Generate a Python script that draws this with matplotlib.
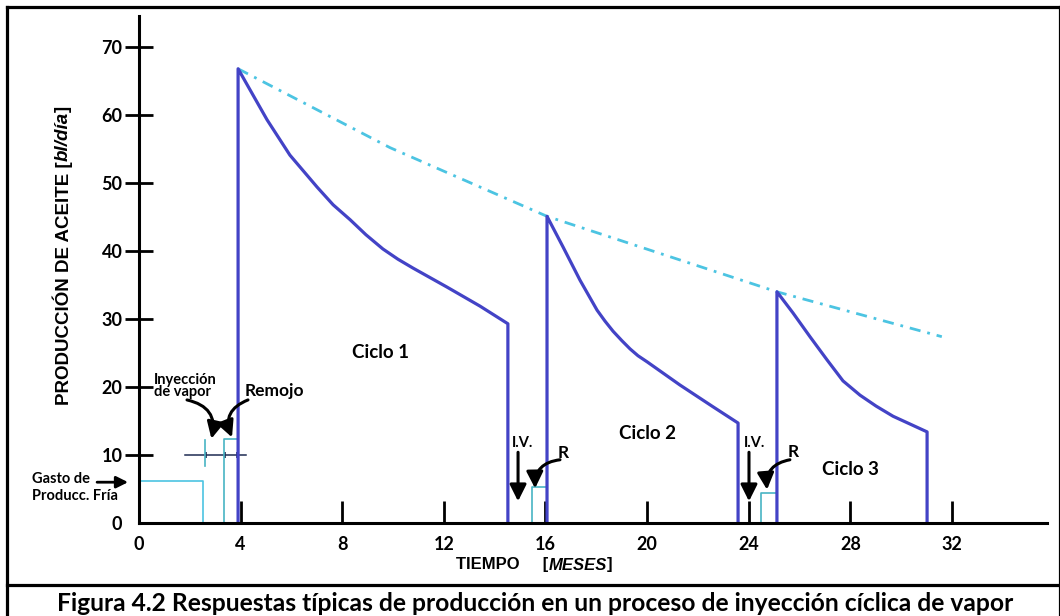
import matplotlib
matplotlib.use("Agg")
import matplotlib.pyplot as plt
from matplotlib.lines import Line2D

# ---- data (months, bl/dia) ----
cold_t = [0, 2.52, 2.52]
cold_q = [6.2, 6.2, 0]

steam_t = [2.60, 2.60]
steam_q = [8.4, 12.2]
steam_ref_t = [1.81, 4.21]
steam_ref_q = [10, 10]
steam_marks_t = [2.64, 3.39, 3.86]

soak1_t = [3.35, 3.35, 3.90]
soak1_q = [0, 12.35, 12.35]
soak2_t = [15.47, 15.47, 16.06]
soak2_q = [0, 5.3, 5.3]
soak3_t = [24.48, 24.48, 25.11]
soak3_q = [0, 4.4, 4.4]

cycle1_t = [3.90, 3.90, 5.04, 5.94, 7.01, 7.64, 8.31, 8.93, 9.60, 10.19, 10.78, 12.12, 13.42, 14.52, 14.52]
cycle1_q = [0, 66.8, 59.3, 54.1, 49.4, 46.8, 44.6, 42.4, 40.3, 38.8, 37.5, 34.7, 31.9, 29.3, 0]
cycle2_t = [16.06, 16.06, 16.69, 17.36, 18.03, 18.34, 18.66, 19.01, 19.33, 19.64, 20.00, 21.29, 22.59, 23.58, 23.58]
cycle2_q = [0, 45.1, 40.6, 35.7, 31.3, 29.7, 28.2, 26.8, 25.6, 24.6, 23.7, 20.3, 17.1, 14.7, 0]
cycle3_t = [25.11, 25.11, 25.74, 26.41, 27.08, 27.71, 28.38, 29.01, 29.68, 31.02, 31.02]
cycle3_q = [0, 34.0, 30.9, 27.4, 24.0, 20.9, 18.8, 17.2, 15.7, 13.4, 0]

env_t = [3.90, 9.88, 16.06, 25.11, 31.6]
env_q = [66.8, 55.2, 45.1, 34.0, 27.4]

xticks = [0, 4, 8, 12, 16, 20, 24, 28, 32]
yticks = [0, 10, 20, 30, 40, 50, 60, 70]

BLUE = "#4343c6"
CYAN = "#4cc4e2"
TEAL = "#48b4c4"
CAL = "Lato"
ARI = "Liberation Sans"

fig = plt.figure(figsize=(10.6, 6.16), dpi=100)
fig.patch.set_facecolor("white")
ax = fig.add_axes([139 / 1060, 93 / 616, 908 / 1060, 507 / 616])
ax.set_xlim(0, 35.74)
ax.set_ylim(0, 74.56)
ax.patch.set_alpha(0)

for s in ("top", "right"):
    ax.spines[s].set_visible(False)
for s in ("left", "bottom"):
    ax.spines[s].set_linewidth(2.2)
    ax.spines[s].set_color("black")

ax.set_xticks(xticks)
ax.set_yticks(yticks)
ax.tick_params(axis="x", direction="in", length=16, width=2.0, pad=9)
ax.tick_params(axis="y", direction="inout", length=20, width=2.0, pad=2)
ax.xaxis.get_major_ticks()[0].tick1line.set_visible(False)
ax.yaxis.get_major_ticks()[0].tick1line.set_visible(False)
for lab in ax.get_xticklabels() + ax.get_yticklabels():
    lab.set_fontfamily(CAL)
    lab.set_fontweight("bold")
    lab.set_fontsize(13)

# cold production + steam/soak steps
ax.plot(cold_t, cold_q, color=CYAN, lw=1.2)
ax.plot(steam_ref_t, steam_ref_q, color="#1e2b52", lw=1.1)
ax.plot(steam_marks_t, [10] * len(steam_marks_t), ls="none", marker="|", ms=4, mew=1.2, color="#1e2b52")
ax.plot(steam_t, steam_q, color=TEAL, lw=1.2)
ax.plot(soak1_t, soak1_q, color=TEAL, lw=1.2)
ax.plot(soak2_t, soak2_q, color=TEAL, lw=1.2)
ax.plot(soak3_t, soak3_q, color=TEAL, lw=1.2)

# envelope
ax.plot(env_t, env_q, color=CYAN, lw=2.0, dashes=(4, 2.5, 1, 2.5))

# production cycles
for t, q in ((cycle1_t, cycle1_q), (cycle2_t, cycle2_q), (cycle3_t, cycle3_q)):
    ax.plot(t, q, color=BLUE, lw=2.3, solid_joinstyle="round")

# labels
ctext = dict(fontfamily=CAL, fontweight="bold", color="black")
ax.text(9.49, 25.1, "Ciclo 1", ha="center", va="center", fontsize=13.5, **ctext)
ax.text(20.0, 13.2, "Ciclo 2", ha="center", va="center", fontsize=13.5, **ctext)
ax.text(27.99, 7.8, "Ciclo 3", ha="center", va="center", fontsize=13.5, **ctext)
ax.text(0.59, 20.1, "Inyección\nde vapor", ha="left", va="center", fontsize=10.5,
        linespacing=0.85, **ctext)
ax.text(5.31, 19.4, "Remojo", ha="center", va="center", fontsize=12.5, **ctext)
ax.text(-4.21, 5.2, "Gasto de\nProducc. Fría", ha="left", va="center", fontsize=10.5,
        linespacing=1.3, **ctext)
ax.text(15.11, 11.8, "I.V.", ha="center", va="center", fontsize=10.5, **ctext)
ax.text(24.21, 11.8, "I.V.", ha="center", va="center", fontsize=10.5, **ctext)
ax.text(16.69, 10.3, "R", ha="center", va="center", fontsize=12.5, **ctext)
ax.text(25.74, 10.4, "R", ha="center", va="center", fontsize=12.5, **ctext)

big = dict(arrowstyle="-|>,head_length=0.5,head_width=0.25", color="black", lw=2.2,
           mutation_scale=20, shrinkA=0, shrinkB=0)


def arrow(xy, xytext, rad=0.0, **kw):
    props = dict(big, connectionstyle=f"arc3,rad={rad}")
    props.update(kw)
    ax.annotate("", xy=xy, xytext=xytext, arrowprops=props, annotation_clip=False)


arrow((2.85, 12.4), (1.89, 18.1), rad=-0.5)
arrow((3.66, 12.6), (4.29, 18.1), rad=0.5)
arrow((-0.43, 6.0), (-1.65, 6.0), mutation_scale=14, lw=2.0)
arrow((14.92, 3.2), (14.92, 10.4))
arrow((24.01, 3.2), (24.01, 10.4))
arrow((15.59, 5.1), (16.57, 9.3), rad=0.45)
arrow((24.72, 4.9), (25.62, 9.3), rad=0.45)

# axis titles built from pieces (bold + bold italic)
rend = fig.canvas.get_renderer()


def chain(x, y, pieces, vertical=False, size=12):
    for s, style in pieces:
        t = fig.text(x, y, s, rotation=90 if vertical else 0, rotation_mode="anchor",
                     ha="left", va="center", fontsize=size, fontfamily=ARI,
                     fontweight="bold", fontstyle=style)
        bb = t.get_window_extent(renderer=rend)
        if vertical:
            y += bb.height / fig.bbox.height
        else:
            x += bb.width / fig.bbox.width


chain(63 / 1060, 211 / 616, [("PRODUCCIÓN DE ACEITE [", "normal"), ("bl/día", "italic"),
                             ("]", "normal")], vertical=True, size=13.5)
chain(456 / 1060, 51 / 616, [("TIEMPO     [", "normal"), ("MESES", "italic"),
                             ("]", "normal")], size=12)

# frame and caption
for xs, ys in (([7 / 1060, 7 / 1060], [0, 609 / 616]),
               ([1.0, 1.0], [0, 609 / 616]),
               ([7 / 1060, 1.0], [609 / 616, 609 / 616]),
               ([7 / 1060, 1.0], [31 / 616, 31 / 616])):
    fig.add_artist(Line2D(xs, ys, color="black", lw=2.3, transform=fig.transFigure))

fig.text(535 / 1060, 5 / 616, "Figura 4.2 Respuestas típicas de producción en un proceso de inyección cíclica de vapor",
         ha="center", va="baseline", fontsize=17.7, fontfamily=CAL, fontweight="bold")

fig.savefig("out.png", dpi=100)
